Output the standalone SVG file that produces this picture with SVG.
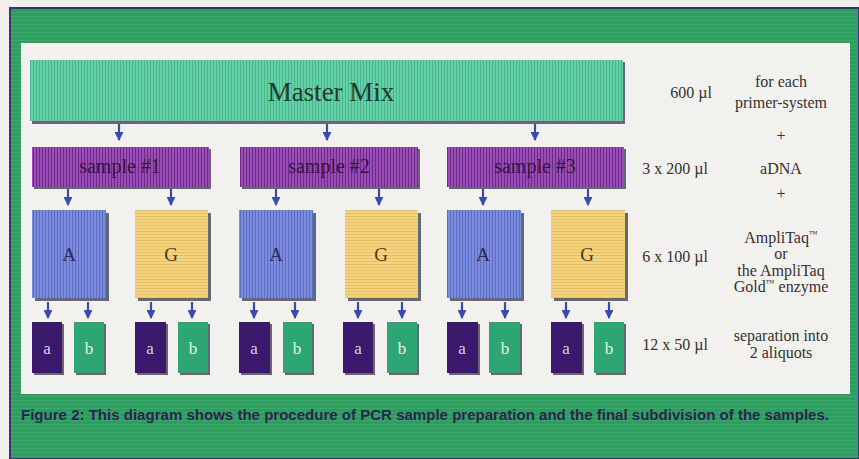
<svg xmlns="http://www.w3.org/2000/svg" width="859" height="459" viewBox="0 0 859 459">
<style>
.lbl{font-family:"Liberation Serif","DejaVu Serif",serif;fill:#353232;font-size:16px;text-anchor:middle}
.box{font-family:"Liberation Serif","DejaVu Serif",serif;text-anchor:middle}
.shadow{fill:#2c2a45;opacity:0.7}
.arrow{stroke:#3a4ab2;stroke-width:2.2;fill:none}
</style>
<defs>
<pattern id="pMaster" width="3" height="3" patternUnits="userSpaceOnUse"><rect width="3" height="3" fill="#63d2a6"/><rect width="1" height="3" fill="#4cb58e"/></pattern>
<pattern id="pSample" width="3" height="3" patternUnits="userSpaceOnUse"><rect width="3" height="3" fill="#9a4cb6"/><rect width="1" height="3" fill="#6e2c8a"/></pattern>
<pattern id="pA" width="3" height="3" patternUnits="userSpaceOnUse"><rect width="3" height="3" fill="#7c8de0"/><rect width="1" height="3" fill="#5c6bc0"/></pattern>
<pattern id="pG" width="3" height="3" patternUnits="userSpaceOnUse"><rect width="3" height="3" fill="#f4d57c"/><rect width="3" height="1" fill="#e6bf68"/></pattern>
<pattern id="pGreen" width="4" height="4" patternUnits="userSpaceOnUse"><rect width="4" height="4" fill="#2f9d60"/><rect width="4" height="1" fill="#3aa86c"/></pattern>
<marker id="ad" viewBox="0 0 10 10" refX="9" refY="5" markerWidth="4" markerHeight="4" orient="auto" markerUnits="strokeWidth"><path d="M0,0 L10,5 L0,10 z" fill="#3a4ab2"/></marker>
</defs>

<!-- background and frame -->
<rect x="0" y="0" width="859" height="459" fill="#f1efeb"/>
<rect x="10" y="8" width="849" height="451" fill="url(#pGreen)" stroke="#3b2f80" stroke-width="2"/>
<rect x="21" y="43" width="829" height="351" fill="#f3f1ed"/>

<!-- connectors -->
<g id="connectors">
<g class="arrow" marker-end="url(#ad)">
<line x1="119" y1="124" x2="119" y2="140"/>
<line x1="327" y1="124" x2="327" y2="140"/>
<line x1="535" y1="124" x2="535" y2="140"/>
<line x1="68" y1="189" x2="68" y2="205"/>
<line x1="171" y1="189" x2="171" y2="205"/>
<line x1="276" y1="189" x2="276" y2="205"/>
<line x1="379" y1="189" x2="379" y2="205"/>
<line x1="483" y1="189" x2="483" y2="205"/>
<line x1="588" y1="189" x2="588" y2="205"/>
<line x1="48" y1="302" x2="48" y2="318"/>
<line x1="88" y1="302" x2="88" y2="318"/>
<line x1="151" y1="302" x2="151" y2="318"/>
<line x1="192" y1="302" x2="192" y2="318"/>
<line x1="254" y1="302" x2="254" y2="318"/>
<line x1="295" y1="302" x2="295" y2="318"/>
<line x1="358" y1="302" x2="358" y2="318"/>
<line x1="402" y1="302" x2="402" y2="318"/>
<line x1="462" y1="302" x2="462" y2="318"/>
<line x1="505" y1="302" x2="505" y2="318"/>
<line x1="566" y1="302" x2="566" y2="318"/>
<line x1="609" y1="302" x2="609" y2="318"/>
</g>
</g>

<!-- Master Mix -->
<g id="master-mix">
<rect class="shadow" x="32" y="62" width="593" height="62"/>
<rect x="30" y="60" width="593" height="61" fill="url(#pMaster)"/>
<text class="box" x="331" y="101" font-size="27" fill="#1f3b32">Master Mix</text>
</g>

<!-- samples -->
<g id="sample-1">
<rect class="shadow" x="34" y="149" width="177" height="40"/>
<rect x="32" y="147" width="177" height="40" fill="url(#pSample)"/>
<text class="box" x="120" y="173" font-size="20" fill="#3a1244">sample #1</text>
</g>
<g id="sample-2">
<rect class="shadow" x="242" y="149" width="178" height="40"/>
<rect x="240" y="147" width="178" height="40" fill="url(#pSample)"/>
<text class="box" x="329" y="173" font-size="20" fill="#3a1244">sample #2</text>
</g>
<g id="sample-3">
<rect class="shadow" x="449" y="149" width="177" height="40"/>
<rect x="447" y="147" width="177" height="40" fill="url(#pSample)"/>
<text class="box" x="535" y="173" font-size="20" fill="#3a1244">sample #3</text>
</g>

<!-- A / G -->
<g id="A-1"><rect class="shadow" x="35" y="213" width="74" height="88"/><rect x="32" y="210" width="74" height="88" fill="url(#pA)"/><text class="box" x="69" y="261" font-size="19" fill="#2a2a5a">A</text></g>
<g id="G-1"><rect class="shadow" x="138" y="213" width="73" height="88"/><rect x="135" y="210" width="73" height="88" fill="url(#pG)"/><text class="box" x="171" y="261" font-size="19" fill="#4a3a1a">G</text></g>
<g id="A-2"><rect class="shadow" x="242" y="213" width="74" height="88"/><rect x="239" y="210" width="74" height="88" fill="url(#pA)"/><text class="box" x="276" y="261" font-size="19" fill="#2a2a5a">A</text></g>
<g id="G-2"><rect class="shadow" x="348" y="213" width="73" height="88"/><rect x="345" y="210" width="73" height="88" fill="url(#pG)"/><text class="box" x="381" y="261" font-size="19" fill="#4a3a1a">G</text></g>
<g id="A-3"><rect class="shadow" x="450" y="213" width="74" height="88"/><rect x="447" y="210" width="74" height="88" fill="url(#pA)"/><text class="box" x="483" y="261" font-size="19" fill="#2a2a5a">A</text></g>
<g id="G-3"><rect class="shadow" x="554" y="213" width="74" height="88"/><rect x="551" y="210" width="74" height="88" fill="url(#pG)"/><text class="box" x="587" y="261" font-size="19" fill="#4a3a1a">G</text></g>

<!-- a / b aliquots -->
<g id="a-1"><rect class="shadow" x="34" y="324" width="30" height="51"/><rect x="32" y="322" width="30" height="51" fill="#3b1a6e"/><text class="box" x="47" y="354" font-size="17" fill="#d8d2e4">a</text></g>
<g id="b-1"><rect class="shadow" x="76" y="324" width="30" height="51"/><rect x="74" y="322" width="30" height="51" fill="#2ea673"/><text class="box" x="89" y="354" font-size="17" fill="#e2f2ea">b</text></g>
<g id="a-2"><rect class="shadow" x="137" y="324" width="31" height="51"/><rect x="135" y="322" width="31" height="51" fill="#3b1a6e"/><text class="box" x="150" y="354" font-size="17" fill="#d8d2e4">a</text></g>
<g id="b-2"><rect class="shadow" x="180" y="324" width="30" height="51"/><rect x="178" y="322" width="30" height="51" fill="#2ea673"/><text class="box" x="193" y="354" font-size="17" fill="#e2f2ea">b</text></g>
<g id="a-3"><rect class="shadow" x="241" y="324" width="31" height="51"/><rect x="239" y="322" width="31" height="51" fill="#3b1a6e"/><text class="box" x="254" y="354" font-size="17" fill="#d8d2e4">a</text></g>
<g id="b-3"><rect class="shadow" x="285" y="324" width="29" height="51"/><rect x="283" y="322" width="29" height="51" fill="#2ea673"/><text class="box" x="297" y="354" font-size="17" fill="#e2f2ea">b</text></g>
<g id="a-4"><rect class="shadow" x="345" y="324" width="30" height="51"/><rect x="343" y="322" width="30" height="51" fill="#3b1a6e"/><text class="box" x="358" y="354" font-size="17" fill="#d8d2e4">a</text></g>
<g id="b-4"><rect class="shadow" x="389" y="324" width="30" height="51"/><rect x="387" y="322" width="30" height="51" fill="#2ea673"/><text class="box" x="402" y="354" font-size="17" fill="#e2f2ea">b</text></g>
<g id="a-5"><rect class="shadow" x="449" y="324" width="31" height="51"/><rect x="447" y="322" width="31" height="51" fill="#3b1a6e"/><text class="box" x="462" y="354" font-size="17" fill="#d8d2e4">a</text></g>
<g id="b-5"><rect class="shadow" x="491" y="324" width="31" height="51"/><rect x="489" y="322" width="31" height="51" fill="#2ea673"/><text class="box" x="505" y="354" font-size="17" fill="#e2f2ea">b</text></g>
<g id="a-6"><rect class="shadow" x="553" y="324" width="31" height="51"/><rect x="551" y="322" width="31" height="51" fill="#3b1a6e"/><text class="box" x="566" y="354" font-size="17" fill="#d8d2e4">a</text></g>
<g id="b-6"><rect class="shadow" x="596" y="324" width="30" height="51"/><rect x="594" y="322" width="30" height="51" fill="#2ea673"/><text class="box" x="609" y="354" font-size="17" fill="#e2f2ea">b</text></g>

<!-- right-hand labels -->
<g id="volumes">
<text class="lbl" x="691" y="98">600 µl</text>
<text class="lbl" x="675" y="174">3 x 200 µl</text>
<text class="lbl" x="675" y="262">6 x 100 µl</text>
<text class="lbl" x="675" y="350">12 x 50 µl</text>
</g>
<g id="notes">
<text class="lbl" x="781" y="87">for each</text>
<text class="lbl" x="781" y="108">primer-system</text>
<text class="lbl" x="781" y="141">+</text>
<text class="lbl" x="781" y="174">aDNA</text>
<text class="lbl" x="781" y="199">+</text>
<text class="lbl" x="781" y="243">AmpliTaq<tspan font-size="9" dy="-6">™</tspan></text>
<text class="lbl" x="781" y="259">or</text>
<text class="lbl" x="781" y="276">the AmpliTaq</text>
<text class="lbl" x="781" y="292">Gold<tspan font-size="9" dy="-6">™</tspan><tspan dy="6"> enzyme</tspan></text>
<text class="lbl" x="781" y="341">separation into</text>
<text class="lbl" x="781" y="358">2 aliquots</text>
</g>

<!-- caption -->
<text x="21" y="420" font-family="'Liberation Sans Narrow','Liberation Sans','DejaVu Sans',sans-serif" font-size="14" font-weight="bold" fill="#2b2450" textLength="808" lengthAdjust="spacingAndGlyphs">Figure 2: <tspan font-weight="normal" fill="#2b2450" style="font-weight:600">This diagram shows the procedure of PCR sample preparation and the final subdivision of the samples.</tspan></text>
</svg>
